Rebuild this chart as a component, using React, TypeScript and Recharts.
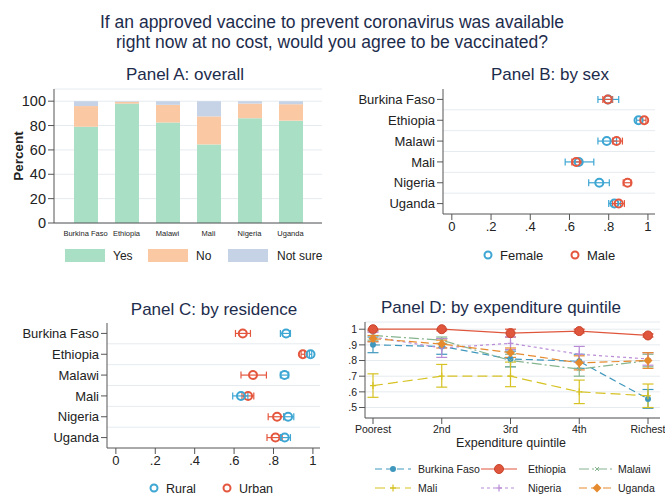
import React from "react";
import {
  BarChart,
  Bar,
  XAxis,
  YAxis,
  CartesianGrid,
  ScatterChart,
  Scatter,
  ErrorBar,
  ReferenceLine,
  LineChart,
  Line,
} from "recharts";

const countries = ["Burkina Faso", "Ethiopia", "Malawi", "Mali", "Nigeria", "Uganda"];

// Panel A: percent answering yes / no / not sure
const yesPct = [79, 98, 82.5, 64.5, 86, 84];
const noPct = [17, 1.5, 14.5, 23, 12, 13.5];
const notSurePct = [4, 0.5, 3, 12.5, 2, 2.5];

// Panel B: by sex (share, 95% CI)
const femaleMean = [0.797, 0.952, 0.79, 0.647, 0.752, 0.829];
const femaleLo = [0.745, 0.942, 0.745, 0.578, 0.698, 0.8];
const femaleHi = [0.851, 0.962, 0.84, 0.724, 0.803, 0.86];
const maleMean = [0.795, 0.981, 0.84, 0.634, 0.896, 0.851];
const maleLo = [0.77, 0.973, 0.82, 0.612, 0.874, 0.82];
const maleHi = [0.82, 0.99, 0.87, 0.66, 0.913, 0.88];

// Panel C: by residence
const ruralMean = [0.864, 0.988, 0.856, 0.635, 0.874, 0.857];
const ruralLo = [0.835, 0.982, 0.835, 0.593, 0.852, 0.835];
const ruralHi = [0.886, 0.994, 0.877, 0.67, 0.903, 0.886];
const urbanMean = [0.644, 0.949, 0.696, 0.671, 0.818, 0.81];
const urbanLo = [0.607, 0.94, 0.635, 0.64, 0.773, 0.767];
const urbanHi = [0.683, 0.958, 0.764, 0.7, 0.852, 0.844];

// Panel D: by expenditure quintile
const quintiles = ["Poorest", "2nd", "3rd", "4th", "Richest"];
const bfQ = [0.9, 0.89, 0.81, 0.795, 0.555];
const bfLo = [0.85, 0.84, 0.76, 0.75, 0.495];
const bfHi = [0.95, 0.94, 0.86, 0.84, 0.615];
const etQ = [1.0, 1.0, 0.975, 0.988, 0.96];
const etLo = [0.99, 0.99, 0.95, 0.976, 0.95];
const etHi = [1.0, 1.0, 1.0, 1.0, 0.97];
const mwQ = [0.96, 0.93, 0.8, 0.745, 0.8];
const mwLo = [0.93, 0.91, 0.76, 0.7, 0.76];
const mwHi = [0.99, 0.95, 0.84, 0.79, 0.84];
const mlQ = [0.64, 0.7, 0.7, 0.6, 0.575];
const mlLo = [0.565, 0.63, 0.633, 0.525, 0.5];
const mlHi = [0.715, 0.775, 0.79, 0.675, 0.65];
const ngQ = [0.95, 0.88, 0.91, 0.84, 0.81];
const ngLo = [0.92, 0.82, 0.87, 0.79, 0.77];
const ngHi = [0.98, 0.94, 0.95, 0.89, 0.85];
const ugQ = [0.94, 0.905, 0.85, 0.785, 0.8];
const ugLo = [0.92, 0.88, 0.82, 0.74, 0.75];
const ugHi = [0.96, 0.93, 0.88, 0.83, 0.85];

const FONT = "Liberation Sans, Arial, sans-serif";
const TXT = "#222";
const AXIS = "#555";
const GRID = "#e6ebef";
const TITLE = "#1d2c4c";
const BLUE = "#3ea6d3";
const RED = "#e4573e";
const GREEN = "#a8dfc5";
const PEACH = "#fbc8a4";
const GREYBLUE = "#c6d3e6";

const C_BF = "#3f97bd";
const C_ET = "#e0563c";
const C_MW = "#86b48f";
const C_ML = "#d6c222";
const C_NG = "#b98bd6";
const C_UG = "#e68a2e";

const barData = countries.map((c, i) => ({
  country: c,
  yes: yesPct[i],
  no: noPct[i],
  notSure: notSurePct[i],
}));

const ciRows = (mean: number[], lo: number[], hi: number[]) =>
  mean.map((m, i) => ({ y: i, x: m, err: [m - lo[i], hi[i] - m] }));

const femaleRows = ciRows(femaleMean, femaleLo, femaleHi);
const maleRows = ciRows(maleMean, maleLo, maleHi);
const ruralRows = ciRows(ruralMean, ruralLo, ruralHi);
const urbanRows = ciRows(urbanMean, urbanLo, urbanHi);

const quintData = quintiles.map((q, i) => ({
  q,
  bf: bfQ[i],
  bfE: [bfQ[i] - bfLo[i], bfHi[i] - bfQ[i]],
  et: etQ[i],
  etE: [etQ[i] - etLo[i], etHi[i] - etQ[i]],
  mw: mwQ[i],
  mwE: [mwQ[i] - mwLo[i], mwHi[i] - mwQ[i]],
  ml: mlQ[i],
  mlE: [mlQ[i] - mlLo[i], mlHi[i] - mlQ[i]],
  ng: ngQ[i],
  ngE: [ngQ[i] - ngLo[i], ngHi[i] - ngQ[i]],
  ug: ugQ[i],
  ugE: [ugQ[i] - ugLo[i], ugHi[i] - ugQ[i]],
}));

const fmtShare = (v: number) => (v === 0 ? "0" : v === 1 ? "1" : "." + Math.round(v * 10));

const ring = (color: string) => (p: any) =>
  <circle cx={p.cx} cy={p.cy} r={4} fill="none" stroke={color} strokeWidth={2} />;

// markers for panel D
const mark = (kind: string, color: string, cx: number, cy: number, key?: any) => {
  if (kind === "dot") return <circle key={key} cx={cx} cy={cy} r={3} fill={color} />;
  if (kind === "big") return <circle key={key} cx={cx} cy={cy} r={4.5} fill={color} stroke="#c8432c" strokeWidth={1} />;
  if (kind === "x")
    return (
      <g key={key} stroke={color} strokeWidth={1}>
        <line x1={cx - 2} y1={cy - 2} x2={cx + 2} y2={cy + 2} />
        <line x1={cx - 2} y1={cy + 2} x2={cx + 2} y2={cy - 2} />
      </g>
    );
  if (kind === "plus")
    return (
      <g key={key} stroke={color} strokeWidth={1.2}>
        <line x1={cx - 3} y1={cy} x2={cx + 3} y2={cy} />
        <line x1={cx} y1={cy - 3.5} x2={cx} y2={cy + 3.5} />
      </g>
    );
  return <path key={key} d={`M${cx},${cy - 4.5}L${cx + 4.5},${cy}L${cx},${cy + 4.5}L${cx - 4.5},${cy}Z`} fill={color} />;
};

const dotFn = (kind: string, color: string) => (p: any) => mark(kind, color, p.cx, p.cy, p.key ?? p.index);

const dSeries = [
  { key: "bf", err: "bfE", name: "Burkina Faso", color: C_BF, dash: "7 4", kind: "dot" },
  { key: "et", err: "etE", name: "Ethiopia", color: C_ET, dash: undefined, kind: "big" },
  { key: "mw", err: "mwE", name: "Malawi", color: C_MW, dash: "10 3 2 3", kind: "x" },
  { key: "ml", err: "mlE", name: "Mali", color: C_ML, dash: "10 5", kind: "plus" },
  { key: "ng", err: "ngE", name: "Nigeria", color: C_NG, dash: "3 3", kind: "plus" },
  { key: "ug", err: "ugE", name: "Uganda", color: C_UG, dash: "8 4", kind: "diamond" },
];

const tickStyle = { fontSize: 13, fill: TXT, fontFamily: FONT };

export default function App() {
  const xShare = (h: number) => (
    <XAxis
      type="number"
      dataKey="x"
      domain={[-0.045, 1.036]}
      ticks={[0, 0.2, 0.4, 0.6, 0.8, 1]}
      interval={0}
      tickFormatter={fmtShare}
      tick={tickStyle}
      stroke={AXIS}
      height={h}
      allowDataOverflow
    />
  );
  const yCountry = (w: number) => (
    <YAxis
      type="number"
      dataKey="y"
      domain={[-0.5, 5.5]}
      reversed
      ticks={[0, 1, 2, 3, 4, 5]}
      interval={0}
      tickFormatter={(i: number) => countries[i]}
      tick={tickStyle}
      stroke={AXIS}
      width={w}
    />
  );
  const sepLines = [0.5, 1.5, 2.5, 3.5, 4.5].map((v) => (
    <ReferenceLine key={v} y={v} stroke={GRID} strokeWidth={1} />
  ));

  return (
    <div style={{ position: "relative", width: 665, height: 496, background: "#fff", fontFamily: FONT, overflow: "hidden" }}>
      <style>{"body{margin:0;background:#fff}"}</style>

      {/* Panel A */}
      <div style={{ position: "absolute", left: 0, top: 60 }}>
        <BarChart width={330} height={210} data={barData} margin={{ top: 29, right: 8, bottom: 27, left: 14 }}>
          <CartesianGrid vertical={false} stroke={GRID} />
          <XAxis
            dataKey="country"
            interval={0}
            padding={{ left: 11, right: 11 }}
            tick={{ fontSize: 7.5, fill: TXT, fontFamily: FONT }}
            tickLine={false}
            stroke={AXIS}
            height={20}
          />
          <YAxis
            domain={[0, 110]}
            ticks={[0, 20, 40, 60, 80, 100]}
            interval={0}
            tick={{ fontSize: 14.5, fill: TXT, fontFamily: FONT }}
            stroke={AXIS}
            width={40}
          />
          <Bar dataKey="yes" stackId="a" fill={GREEN} barSize={24} isAnimationActive={false} />
          <Bar dataKey="no" stackId="a" fill={PEACH} barSize={24} isAnimationActive={false} />
          <Bar dataKey="notSure" stackId="a" fill={GREYBLUE} barSize={24} isAnimationActive={false} />
        </BarChart>
      </div>

      {/* Panel B */}
      <div style={{ position: "absolute", left: 340, top: 60 }}>
        <ScatterChart width={325} height={210} margin={{ top: 29, right: 10, bottom: 0, left: 0 }}>
          {sepLines}
          {xShare(56)}
          {yCountry(103)}
          <Scatter data={femaleRows} shape={ring(BLUE)} isAnimationActive={false}>
            <ErrorBar dataKey="err" direction="x" width={3.5} stroke={BLUE} strokeWidth={1.2} />
          </Scatter>
          <Scatter data={maleRows} shape={ring(RED)} isAnimationActive={false}>
            <ErrorBar dataKey="err" direction="x" width={3.5} stroke={RED} strokeWidth={1.2} />
          </Scatter>
        </ScatterChart>
      </div>

      {/* Panel C */}
      <div style={{ position: "absolute", left: 0, top: 290 }}>
        <ScatterChart width={330} height={206} margin={{ top: 33, right: 10, bottom: 0, left: 0 }}>
          {sepLines}
          {xShare(48)}
          {yCountry(107)}
          <Scatter data={urbanRows} shape={ring(RED)} isAnimationActive={false}>
            <ErrorBar dataKey="err" direction="x" width={3.5} stroke={RED} strokeWidth={1.2} />
          </Scatter>
          <Scatter data={ruralRows} shape={ring(BLUE)} isAnimationActive={false}>
            <ErrorBar dataKey="err" direction="x" width={3.5} stroke={BLUE} strokeWidth={1.2} />
          </Scatter>
        </ScatterChart>
      </div>

      {/* Panel D */}
      <div style={{ position: "absolute", left: 340, top: 290 }}>
        <LineChart width={325} height={206} data={quintData} margin={{ top: 32, right: 5, bottom: 0, left: 0 }}>
          <CartesianGrid vertical={false} stroke={GRID} />
          <XAxis
            dataKey="q"
            interval={0}
            padding={{ left: 8, right: 12 }}
            tick={{ fontSize: 10.5, fill: TXT, fontFamily: FONT }}
            stroke={AXIS}
            height={78}
          />
          <YAxis
            domain={[0.433, 1.046]}
            ticks={[0.5, 0.6, 0.7, 0.8, 0.9, 1]}
            interval={0}
            tickFormatter={fmtShare}
            tick={{ fontSize: 10.5, fill: TXT, fontFamily: FONT }}
            stroke={AXIS}
            width={25}
            allowDataOverflow
          />
          {dSeries.map((s) => (
            <Line
              key={s.key}
              dataKey={s.key}
              stroke={s.color}
              strokeWidth={1.2}
              strokeDasharray={s.dash}
              dot={dotFn(s.kind, s.color)}
              activeDot={false}
              isAnimationActive={false}
            >
              <ErrorBar dataKey={s.err} direction="y" width={5.5} stroke={s.color} strokeWidth={1.2} />
            </Line>
          ))}
        </LineChart>
      </div>

      {/* titles, labels and legends */}
      <svg width={665} height={496} style={{ position: "absolute", left: 0, top: 0, pointerEvents: "none" }} fontFamily={FONT}>
        <text x={332} y={27.5} textAnchor="middle" fontSize={17.5} fill={TITLE}>
          If an approved vaccine to prevent coronavirus was available
        </text>
        <text x={332} y={47.5} textAnchor="middle" fontSize={17.5} fill={TITLE}>
          right now at no cost, would you agree to be vaccinated?
        </text>

        <text x={185} y={80} textAnchor="middle" fontSize={17} fill={TITLE}>Panel A: overall</text>
        <text x={550} y={80} textAnchor="middle" fontSize={17} fill={TITLE}>Panel B: by sex</text>
        <text x={214} y={315} textAnchor="middle" fontSize={17} fill={TITLE}>Panel C: by residence</text>
        <text x={501} y={312.5} textAnchor="middle" fontSize={17} fill={TITLE}>Panel D: by expenditure quintile</text>

        <text x={0} y={0} transform="translate(23,156) rotate(-90)" textAnchor="middle" fontSize={13.5} fontWeight="bold" fill={TXT}>
          Percent
        </text>

        {/* legend A */}
        <rect x={65} y={249} width={40} height={13} fill={GREEN} />
        <text x={113} y={260} fontSize={12} fill={TXT}>Yes</text>
        <rect x={148} y={249} width={40} height={13} fill={PEACH} />
        <text x={196} y={260} fontSize={12} fill={TXT}>No</text>
        <rect x={228} y={249} width={40} height={13} fill={GREYBLUE} />
        <text x={277} y={260} fontSize={12} fill={TXT}>Not sure</text>

        {/* legend B */}
        <circle cx={488} cy={255} r={3.5} fill="none" stroke={BLUE} strokeWidth={2} />
        <text x={500} y={260} fontSize={13} fill={TXT}>Female</text>
        <circle cx={575} cy={255} r={3.5} fill="none" stroke={RED} strokeWidth={2} />
        <text x={587} y={260} fontSize={13} fill={TXT}>Male</text>

        {/* legend C */}
        <circle cx={154} cy={488} r={3.5} fill="none" stroke={BLUE} strokeWidth={2} />
        <text x={166} y={492.5} fontSize={12.5} fill={TXT}>Rural</text>
        <circle cx={227} cy={488} r={3.5} fill="none" stroke={RED} strokeWidth={2} />
        <text x={239} y={492.5} fontSize={12.5} fill={TXT}>Urban</text>

        {/* panel D axis title and legend */}
        <text x={511} y={447} textAnchor="middle" fontSize={12.5} fill={TXT}>Expenditure quintile</text>
        {dSeries.map((s, i) => {
          const col = i % 3;
          const row = Math.floor(i / 3);
          const x0 = [375, 481, 579][col];
          const tx = [418, 528, 618][col];
          const cy = row === 0 ? 469 : 488;
          return (
            <g key={s.key}>
              <line x1={x0} y1={cy} x2={x0 + 36} y2={cy} stroke={s.color} strokeWidth={1.2} strokeDasharray={s.dash} />
              {mark(s.kind, s.color, x0 + 18, cy)}
              <text x={tx} y={cy + 4} fontSize={10.5} fill={TXT}>{s.name}</text>
            </g>
          );
        })}
      </svg>
    </div>
  );
}
